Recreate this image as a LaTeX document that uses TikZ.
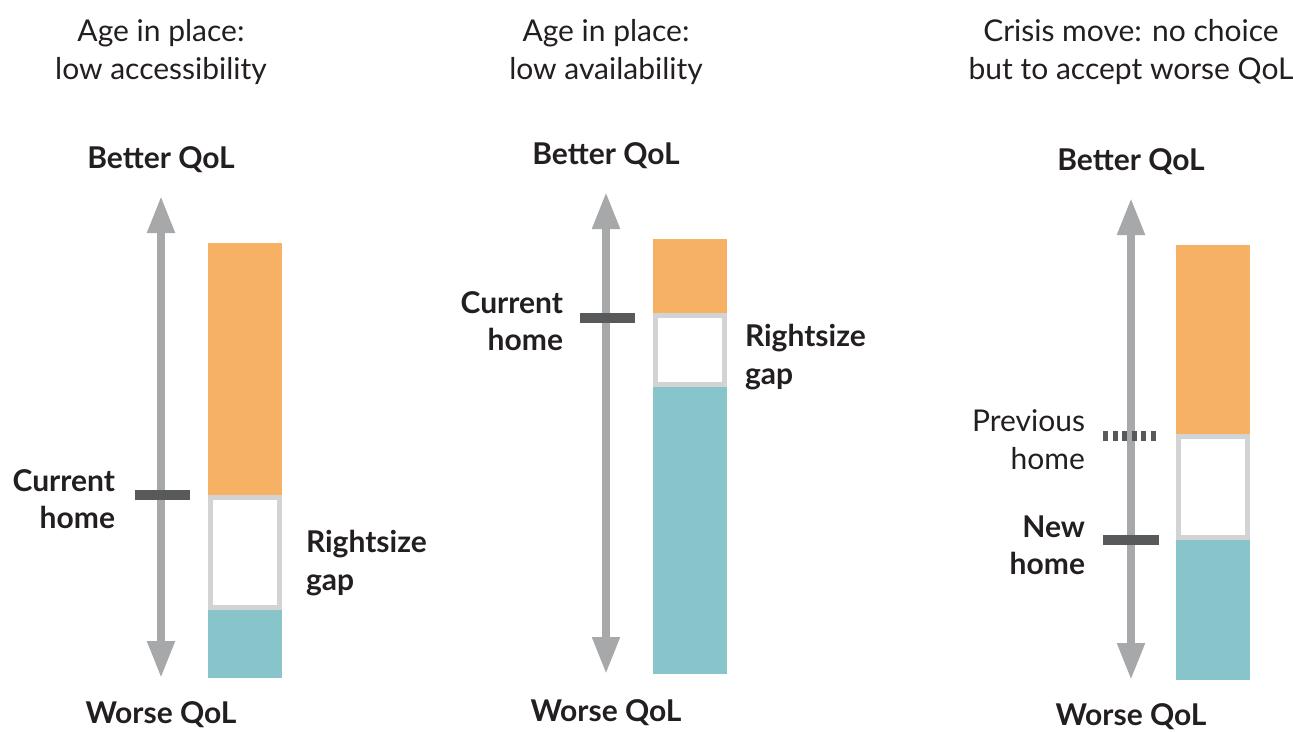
\documentclass[tikz,border=0pt]{standalone}
\usepackage{fontspec}
\setmainfont{Lato}
\usetikzlibrary{arrows.meta}
\definecolor{orangebar}{HTML}{F7B164}
\definecolor{tealbar}{HTML}{88C5CB}
\definecolor{axisgray}{HTML}{A7A8AA}
\definecolor{tickgray}{HTML}{58595B}
\definecolor{gapgray}{HTML}{D1D3D4}
\definecolor{txt}{HTML}{231F20}
\tikzset{
  every node/.style={inner sep=0pt, outer sep=0pt, text=txt, font=\fontsize{30}{36}\selectfont},
  lbl/.style={anchor=base},
  lblR/.style={anchor=base east},
  lblL/.style={anchor=base west},
  bold/.style={font=\fontsize{30}{36}\selectfont\bfseries},
  axis/.style={draw=axisgray, line width=8pt, {Triangle[width=26pt,length=37pt]}-{Triangle[width=26pt,length=37pt]}},
  tick/.style={draw=tickgray, line width=10pt},
  dtick/.style={draw=tickgray, line width=10pt, dash pattern=on 5pt off 4.5pt},
  orangefill/.style={fill=orangebar, draw=none},
  tealfill/.style={fill=tealbar, draw=none},
  gapbox/.style={fill=white, draw=gapgray, line width=5pt},
}
\begin{document}
\begin{tikzpicture}[x=1pt,y=-1pt]
\useasboundingbox (0,0) rectangle (1293,731);
% ---------- Panel 1 ----------
\node[lbl] (t1a) at (161,41) {Age in place:};
\node[lbl] (t1b) at (161,79) {low accessibility};
\node[lbl,bold] (b1) at (161,168) {Better QoL};
\node[lbl,bold] (w1) at (161,723) {Worse QoL};
\coordinate (a1t) at (161,196);
\coordinate (a1b) at (161,678);
\draw[axis] (a1b) -- (a1t);
\fill[orangefill] (208,243) rectangle (282,495);
\fill[tealfill] (208,610) rectangle (282,678);
\draw[gapbox] (210.5,497.5) rectangle (279.5,607.5);
\coordinate (c1l) at (135,495);
\coordinate (c1r) at (190,495);
\draw[tick] (c1l) -- (c1r);
\node[lblR,bold] (ch1a) at (115,491) {Current};
\node[lblR,bold] (ch1b) at (115,528) {home};
\node[lblL,bold] (rg1a) at (306,552) {Rightsize};
\node[lblL,bold] (rg1b) at (306,590) {gap};
% ---------- Panel 2 ----------
\node[lbl] (t2a) at (606,41) {Age in place:};
\node[lbl] (t2b) at (606,79) {low availability};
\node[lbl,bold] (b2) at (606,164) {Better QoL};
\node[lbl,bold] (w2) at (606,721) {Worse QoL};
\coordinate (a2t) at (606,192);
\coordinate (a2b) at (606,674);
\draw[axis] (a2b) -- (a2t);
\fill[orangefill] (653,239) rectangle (727,313);
\fill[tealfill] (653,387) rectangle (727,674);
\draw[gapbox] (655.5,315.5) rectangle (724.5,384.5);
\coordinate (c2l) at (580,318);
\coordinate (c2r) at (635,318);
\draw[tick] (c2l) -- (c2r);
\node[lblR,bold] (ch2a) at (563,313) {Current};
\node[lblR,bold] (ch2b) at (563,350) {home};
\node[lblL,bold] (rg2a) at (745,346) {Rightsize};
\node[lblL,bold] (rg2b) at (745,384) {gap};
% ---------- Panel 3 ----------
\node[lbl] (t3a) at (1131,41) {Crisis move: no choice};
\node[lbl] (t3b) at (1131,79) {but to accept worse QoL};
\node[lbl,bold] (b3) at (1131,170) {Better QoL};
\node[lbl,bold] (w3) at (1131,725) {Worse QoL};
\coordinate (a3t) at (1131,198);
\coordinate (a3b) at (1131,680);
\draw[axis] (a3b) -- (a3t);
\fill[orangefill] (1176,245) rectangle (1250,434);
\fill[tealfill] (1176,540) rectangle (1250,680);
\draw[gapbox] (1178.5,436.5) rectangle (1247.5,537.5);
\coordinate (p3l) at (1103,436);
\coordinate (p3r) at (1159,436);
\draw[dtick] (p3l) -- (p3r);
\coordinate (n3l) at (1103,540);
\coordinate (n3r) at (1159,540);
\draw[tick] (n3l) -- (n3r);
\node[lblR] (ph3a) at (1085,431) {Previous};
\node[lblR] (ph3b) at (1085,469) {home};
\node[lblR,bold] (nh3a) at (1085,537) {New};
\node[lblR,bold] (nh3b) at (1085,574) {home};
\end{tikzpicture}
\end{document}
